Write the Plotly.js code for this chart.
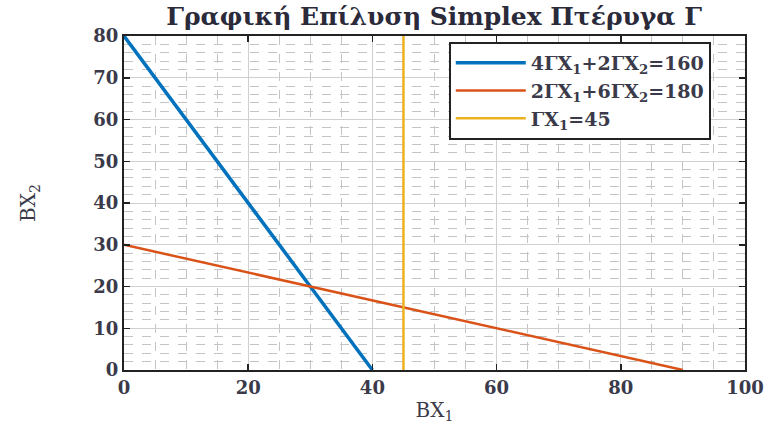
<!DOCTYPE html>
<html>
<head>
<meta charset="utf-8">
<script src="https://cdn.plot.ly/plotly-3.0.1.min.js"></script>
<style>html,body{margin:0;padding:0;background:#fff}#chart{width:778px;height:424px}</style>
</head>
<body>
<div id="chart"></div>
<script>
// Line 1: 4ΓX1 + 2ΓX2 = 160
const line1X = [0, 40];
const line1Y = [80, 0];
// Line 2: 2ΓX1 + 6ΓX2 = 180
const line2X = [0, 90];
const line2Y = [30, 0];
// Line 3: ΓX1 = 45
const line3X = [45, 45];
const line3Y = [0, 80];
const seriesNames = [
  "4ΓX<sub>1</sub>+2ΓX<sub>2</sub>=160",
  "2ΓX<sub>1</sub>+6ΓX<sub>2</sub>=180",
  "ΓX<sub>1</sub>=45"
];
const xTicks = [0, 20, 40, 60, 80, 100];
const yTicks = [0, 10, 20, 30, 40, 50, 60, 70, 80];

const serif = "DejaVu Serif, Liberation Serif, serif";
const traces = [
  {x: line1X, y: line1Y, mode: 'lines', name: seriesNames[0], line: {color: '#0072BD', width: 3.5}},
  {x: line2X, y: line2Y, mode: 'lines', name: seriesNames[1], line: {color: '#D95319', width: 2.5}},
  {x: line3X, y: line3Y, mode: 'lines', name: seriesNames[2], line: {color: '#EDB120', width: 2.5}}
];
const axisCommon = {
  showline: true, linecolor: '#222', linewidth: 2, mirror: 'ticks',
  ticks: 'inside', ticklen: 6, tickcolor: '#222', tickwidth: 1.5,
  showgrid: true, gridcolor: '#cfcfcf', gridwidth: 1,
  zeroline: false,
  tickfont: {family: serif, size: 18, color: '#3a3a4a', weight: 'bold'}
};
const layout = {
  width: 778, height: 424,
  margin: {l: 124, r: 33, t: 36, b: 54},
  paper_bgcolor: '#fff', plot_bgcolor: '#fff',
  title: {text: '<b>Γραφική Επίλυση Simplex Πτέρυγα Γ</b>', x: 0.558, xanchor: 'center', y: 0.962, yanchor: 'middle',
          font: {family: serif, size: 25, color: '#2a2a3a'}},
  xaxis: Object.assign({}, axisCommon, {
    range: [0, 100], tickvals: xTicks, ticktext: xTicks.map(String),
    minor: {dtick: 5, tick0: 0, showgrid: true, griddash: 'dash', gridcolor: '#c4c4c4', gridwidth: 1, ticks: ''},
    title: {text: 'BX<sub>1</sub>', font: {family: serif, size: 20, color: '#3a3a4a'}, standoff: 6}
  }),
  yaxis: Object.assign({}, axisCommon, {
    range: [0, 80], tickvals: yTicks, ticktext: yTicks.map(String),
    minor: {dtick: 2, tick0: 0, showgrid: true, griddash: 'dash', gridcolor: '#c4c4c4', gridwidth: 1, ticks: ''},
    title: {text: 'BX<sub>2</sub>', font: {family: serif, size: 20, color: '#3a3a4a'}, standoff: 52}
  }),
  legend: {x: 0.523, y: 0.982, xanchor: 'left', yanchor: 'top', bgcolor: '#fff',
           bordercolor: '#222', borderwidth: 2,
           font: {family: serif, size: 19, color: '#3a3a4a', weight: 'bold'}, itemwidth: 70, tracegroupgap: 0},
  showlegend: true
};
Plotly.newPlot('chart', traces, layout, {displayModeBar: false, staticPlot: true});
</script>
</body>
</html>
